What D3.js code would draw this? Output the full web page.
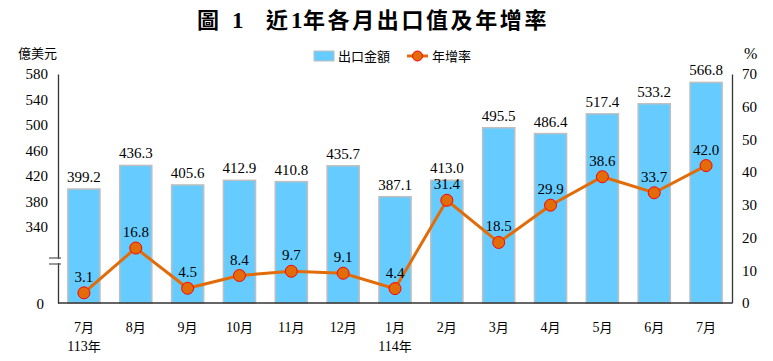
<!DOCTYPE html>
<html><head><meta charset="utf-8">
<script src="https://cdn.jsdelivr.net/npm/d3@7"></script>
<style>
body{margin:0;background:#fff;}
text{font-family:"Liberation Serif","Times New Roman",serif;fill:#000;}
.cjk{font-family:"Noto Sans CJK TC","Noto Sans CJK SC",sans-serif;}
</style></head><body>
<svg id="c" width="773" height="361"></svg>
<script>
const months = ["7月","8月","9月","10月","11月","12月","1月","2月","3月","4月","5月","6月","7月"];
const yearLabels = ["113年","","","","","","114年","","","","","",""];
const exportValues = [399.2,436.3,405.6,412.9,410.8,435.7,387.1,413.0,495.5,486.4,517.4,533.2,566.8];
const growthRates = [3.1,16.8,4.5,8.4,9.7,9.1,4.4,31.4,18.5,29.9,38.6,33.7,42.0];
const leftTicks = [340,380,420,460,500,540,580];
const rightTicks = [0,10,20,30,40,50,60,70];

const svg = d3.select("#c");
const L = 58, R = 732, T = 74, B = 303;
const x = d3.scaleBand().domain(d3.range(months.length)).range([L,R]).paddingInner(0.38).paddingOuter(0.19);
const yL = d3.scaleLinear().domain([220,580]).range([B,T]);
const yR = d3.scaleLinear().domain([0,70]).range([B,T]);

// title
const tg = svg.append("g").attr("font-weight","bold");
tg.append("text").attr("class","cjk").attr("x",197).attr("y",28).attr("font-size",22).text("圖");
tg.append("text").attr("x",232).attr("y",28).attr("font-size",23).text("1");
tg.append("text").attr("class","cjk").attr("x",266).attr("y",28).attr("font-size",22).text("近");
tg.append("text").attr("x",291).attr("y",28).attr("font-size",23).text("1");
tg.append("text").attr("class","cjk").attr("x",303).attr("y",28).attr("font-size",22).attr("letter-spacing",2.6).text("年各月出口值及年增率");

svg.append("text").attr("class","cjk").attr("x",18).attr("y",58).attr("font-size",13).text("億美元");
svg.append("text").attr("x",744).attr("y",59).attr("font-size",16).text("%");

// legend
svg.append("rect").attr("x",314).attr("y",51).attr("width",20).attr("height",10).attr("fill","#66CCFF").attr("stroke","#BFBFBF");
svg.append("text").attr("class","cjk").attr("x",338).attr("y",61).attr("font-size",13).text("出口金額");
svg.append("line").attr("x1",407).attr("x2",428).attr("y1",56).attr("y2",56).attr("stroke","#E36C0A").attr("stroke-width",3);
svg.append("circle").attr("cx",417.5).attr("cy",56).attr("r",5).attr("fill","#E36C0A").attr("stroke","#FF0000");
svg.append("text").attr("class","cjk").attr("x",432).attr("y",61).attr("font-size",13).text("年增率");

// bars
svg.selectAll("rect.bar").data(exportValues).join("rect").attr("class","bar")
  .attr("x",(d,i)=>x(i)).attr("width",x.bandwidth())
  .attr("y",d=>yL(d)).attr("height",d=>B-yL(d))
  .attr("fill","#66CCFF").attr("stroke","#BFBFBF").attr("stroke-width",1.5);
svg.selectAll("text.bl").data(exportValues).join("text").attr("class","bl")
  .attr("x",(d,i)=>x(i)+x.bandwidth()/2).attr("y",d=>yL(d)-7)
  .attr("text-anchor","middle").attr("font-size",15).text(d=>d.toFixed(1));

// axes
const axL = svg.append("g").attr("transform",`translate(${L},0)`).call(d3.axisLeft(yL).tickValues(leftTicks).tickSize(0).tickPadding(10).tickFormat(d3.format("d")));
const axR = svg.append("g").attr("transform",`translate(${R},0)`).call(d3.axisRight(yR).tickValues(rightTicks).tickSize(0).tickPadding(10));
[axL,axR].forEach(a=>{a.select(".domain").attr("stroke","#333").attr("stroke-width",1.3);
  a.selectAll("text").attr("font-size",15).attr("font-family","Liberation Serif, serif").attr("fill","#000");});
// zero label on left axis and break mark
svg.append("text").attr("x",L-14).attr("y",B+6).attr("text-anchor","end").attr("font-size",15).text("0");
svg.append("line").attr("x1",L-9).attr("x2",L+3).attr("y1",258).attr("y2",258).attr("stroke","#555").attr("stroke-width",1.2);
svg.append("line").attr("x1",L-9).attr("x2",L+3).attr("y1",264).attr("y2",264).attr("stroke","#555").attr("stroke-width",1.2);
svg.append("rect").attr("x",L-2).attr("y",259).attr("width",4).attr("height",4).attr("fill","#fff");
svg.append("line").attr("x1",L).attr("x2",R).attr("y1",B).attr("y2",B).attr("stroke","#333").attr("stroke-width",1.5);

// x labels
svg.selectAll("text.m").data(months).join("text").attr("class","m")
  .attr("x",(d,i)=>x(i)+x.bandwidth()/2).attr("y",332).attr("text-anchor","middle").attr("font-size",14)
  .each(function(d){const m=d.match(/^(\d+)(月)$/);const t=d3.select(this);
    t.append("tspan").text(m[1]);t.append("tspan").attr("class","cjk").attr("font-size",13).text(m[2]);});
svg.selectAll("text.yr").data(yearLabels).join("text").attr("class","yr")
  .attr("x",(d,i)=>x(i)+x.bandwidth()/2).attr("y",351).attr("text-anchor","middle").attr("font-size",14)
  .each(function(d){if(!d)return;const m=d.match(/^(\d+)(年)$/);const t=d3.select(this);
    t.append("tspan").text(m[1]);t.append("tspan").attr("class","cjk").attr("font-size",13).text(m[2]);});

// line
const cx = i=>x(i)+x.bandwidth()/2;
svg.append("path").datum(growthRates).attr("fill","none").attr("stroke","#E36C0A").attr("stroke-width",3)
  .attr("d",d3.line().x((d,i)=>cx(i)).y(d=>yR(d)));
svg.selectAll("circle.pt").data(growthRates).join("circle").attr("class","pt")
  .attr("cx",(d,i)=>cx(i)).attr("cy",d=>yR(d)).attr("r",6).attr("fill","#E36C0A").attr("stroke","#FF0000").attr("stroke-width",1);
svg.selectAll("text.pl").data(growthRates).join("text").attr("class","pl")
  .attr("x",(d,i)=>cx(i)).attr("y",d=>yR(d)-11).attr("text-anchor","middle").attr("font-size",15).text(d=>d.toFixed(1));
</script></body></html>
